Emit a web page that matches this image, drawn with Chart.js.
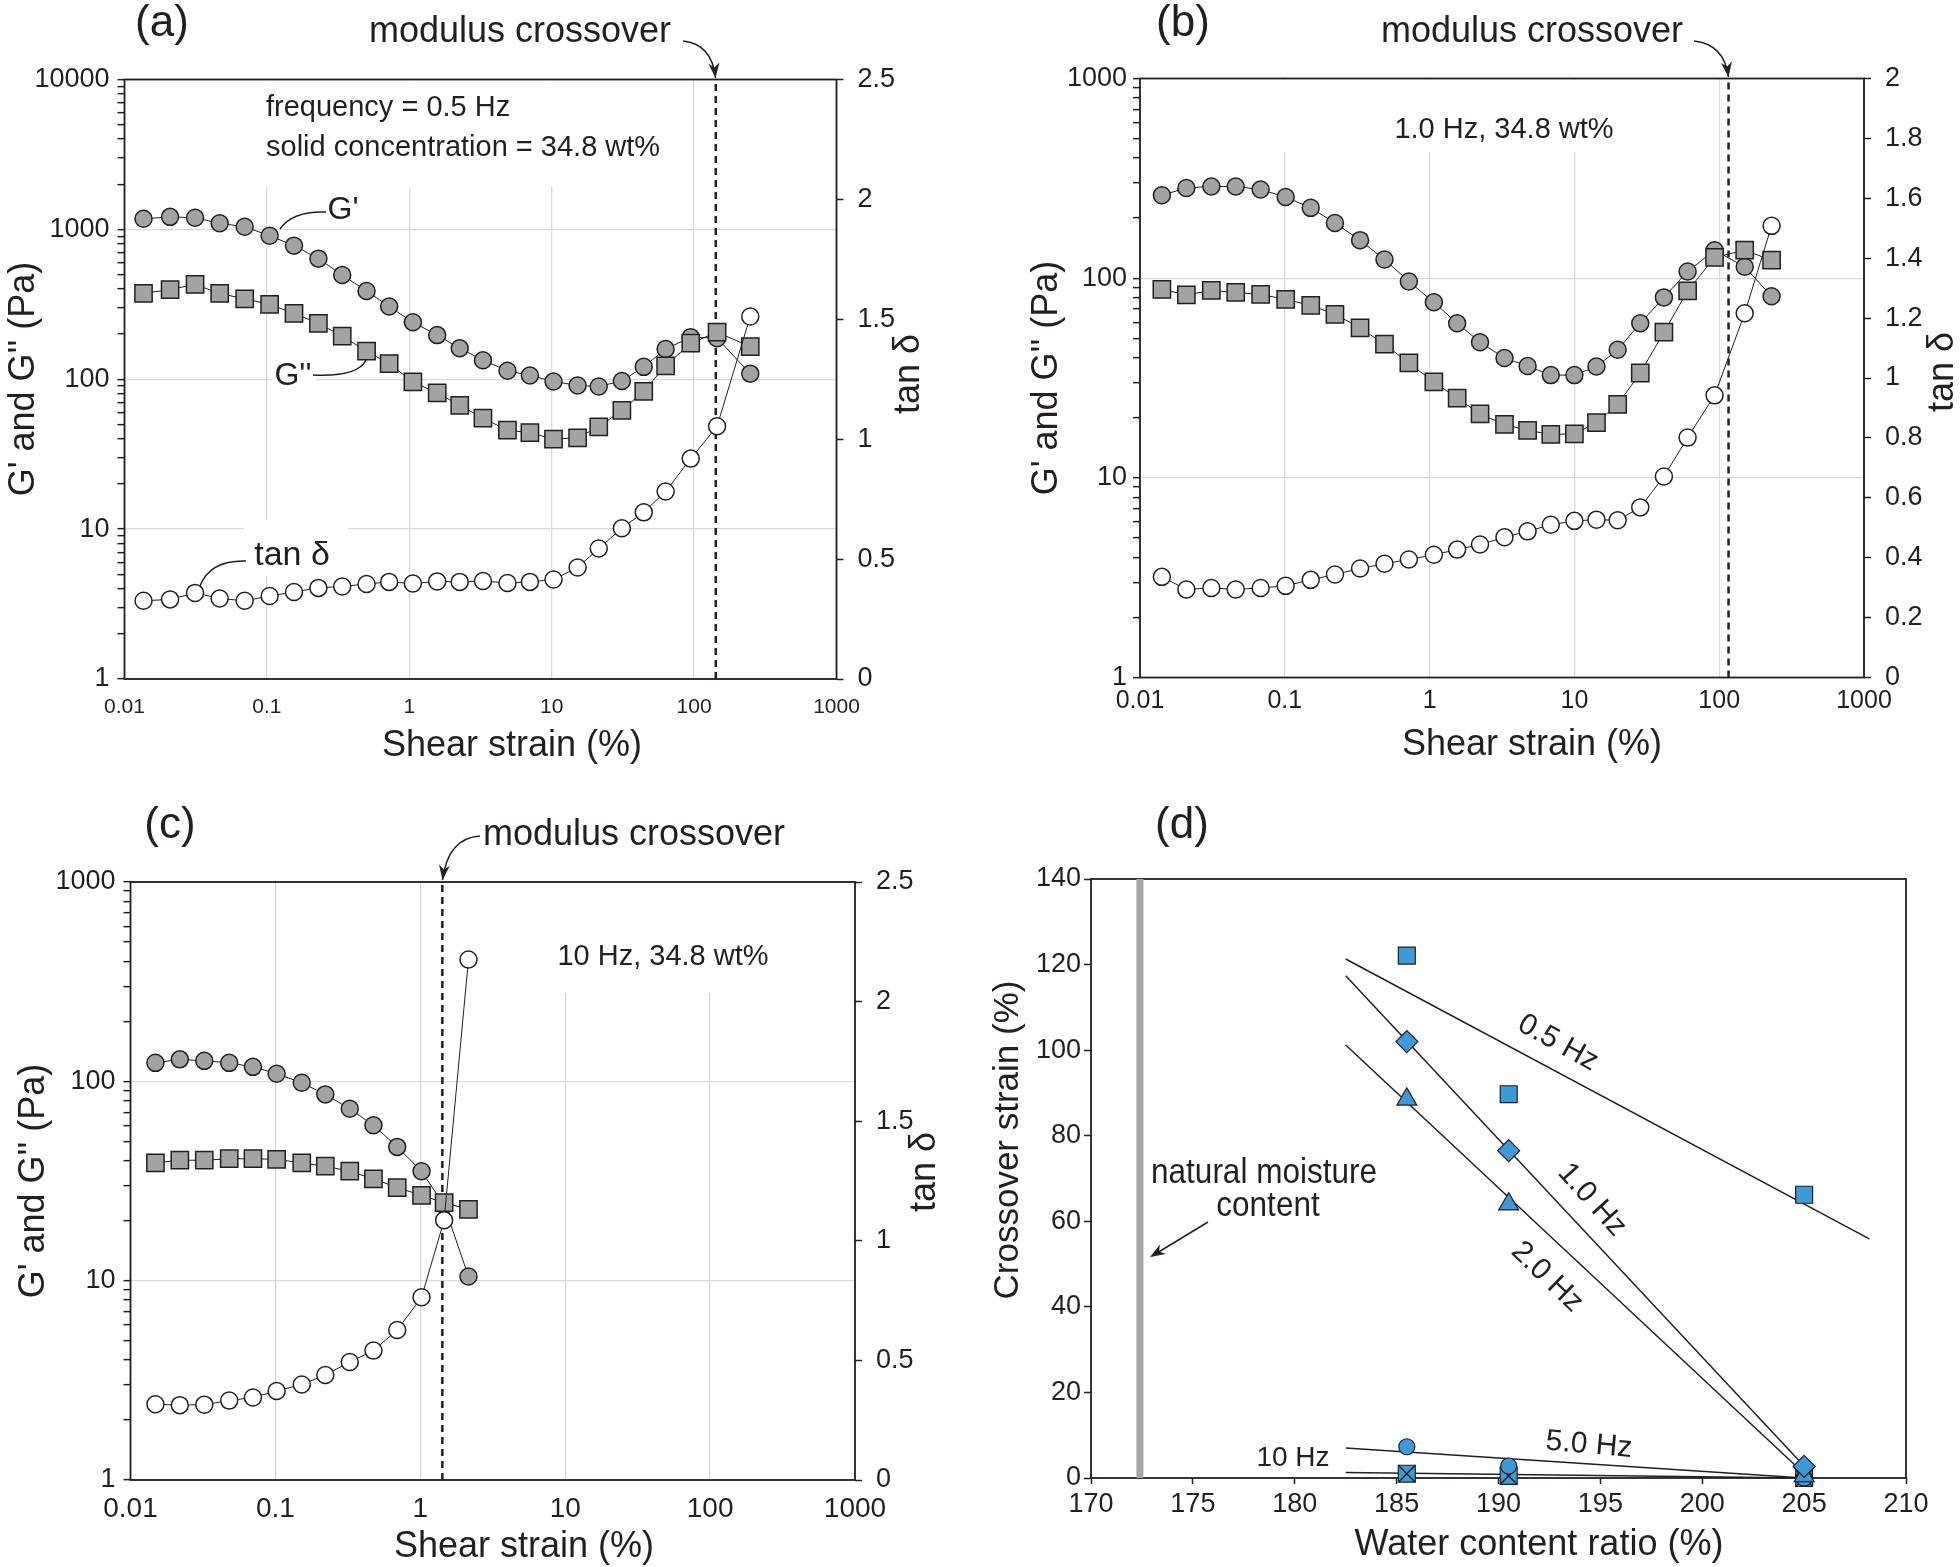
<!DOCTYPE html>
<html>
<head>
<meta charset="utf-8">
<script src="https://cdn.jsdelivr.net/npm/chart.js@4.4.1/dist/chart.umd.min.js"></script>
<style>
  html, body { margin: 0; padding: 0; background: #fff; }
  #fig { position: relative; width: 1960px; height: 1567px; overflow: hidden; background: #fff; }
  #fig canvas { position: absolute; }
</style>
</head>
<body>
<div id="fig">
  <canvas id="chart-a" width="980" height="783" style="left:0;top:0"></canvas>
  <canvas id="chart-b" width="980" height="783" style="left:980px;top:0"></canvas>
  <canvas id="chart-c" width="980" height="784" style="left:0;top:783px"></canvas>
  <canvas id="chart-d" width="980" height="784" style="left:980px;top:783px"></canvas>
</div>
<script>
// ---- (a) frequency 0.5 Hz ----
const strainA = [0.0136, 0.0209, 0.0313, 0.0466, 0.0698, 0.1045, 0.155, 0.230, 0.338, 0.501, 0.722, 1.06, 1.57, 2.26, 3.29, 4.89, 7.03, 10.3, 15.2, 21.4, 31.1, 44.3, 63.1, 94.7, 145, 248];
const gPrimeA = [1176, 1212, 1195, 1098, 1041, 907, 779, 638, 496, 388, 306, 240, 197, 161, 134, 114, 106, 96.7, 90.9, 89.5, 97.4, 121, 159, 191, 188, 109];
const gDoubleA = [374, 397, 429, 374, 344, 316, 275, 236, 194, 154, 127, 96, 81, 67, 55, 45.7, 44, 39.8, 40.7, 48.2, 62, 83, 123, 174, 206, 165];
const tanDeltaA = [0.326, 0.332, 0.359, 0.336, 0.326, 0.346, 0.363, 0.380, 0.386, 0.396, 0.405, 0.398, 0.407, 0.405, 0.409, 0.400, 0.405, 0.415, 0.465, 0.544, 0.629, 0.695, 0.782, 0.919, 1.054, 1.512];
const crossoverA = 142;

// ---- (b) 1.0 Hz ----
const strainB = [0.01416, 0.0209, 0.0311, 0.0458, 0.0681, 0.1014, 0.151, 0.222, 0.331, 0.488, 0.719, 1.07, 1.55, 2.23, 3.29, 4.75, 6.87, 10.0, 14.2, 19.9, 28.5, 41.5, 60.5, 92.9, 150, 230];
const gPrimeB = [260, 283, 288, 288, 278, 255, 225, 189, 155, 124, 96.3, 75.7, 59.5, 47.8, 39.8, 36.3, 32.7, 32.7, 36.1, 43.8, 59.5, 80.1, 108, 138, 114, 81.1];
const gDoubleB = [87.8, 82.5, 86.8, 84.9, 82.9, 78.3, 73.1, 65.9, 56.4, 46.7, 37.6, 30.2, 25.1, 20.9, 18.5, 17.3, 16.5, 16.6, 18.9, 23.3, 33.5, 53.6, 86.3, 127, 138, 123];
const tanDeltaB = [0.336, 0.294, 0.299, 0.294, 0.299, 0.306, 0.326, 0.344, 0.364, 0.380, 0.394, 0.410, 0.427, 0.444, 0.468, 0.488, 0.510, 0.523, 0.527, 0.525, 0.568, 0.671, 0.801, 0.942, 1.216, 1.508];
const crossoverB = 116;

// ---- (c) 10 Hz ----
const strainC = [0.01486, 0.0219, 0.0323, 0.048, 0.070, 0.102, 0.152, 0.221, 0.326, 0.475, 0.693, 1.02, 1.46, 2.15];
const gPrimeC = [123.8, 128.9, 126.7, 123.8, 118.2, 109.1, 98.3, 86.0, 72.8, 60.2, 46.9, 35.4, 23.9, 10.5];
const gDoubleC = [39.0, 40.2, 40.2, 40.9, 40.9, 40.6, 39.0, 37.5, 35.4, 32.4, 29.3, 26.8, 24.6, 22.8];
const tanDeltaC = [0.317, 0.313, 0.315, 0.332, 0.345, 0.372, 0.399, 0.439, 0.493, 0.541, 0.627, 0.764, 1.086, 2.176];
const crossoverC = 1.42;

// ---- (d) crossover strain vs water content ----
const waterRatio = [185.5, 190.5, 205];
const cross05Hz = [122.1, 89.7, 66.2];
const cross10Hz = [102.0, 76.5, 2.7];
const cross20Hz = [88.5, 64.0, 0.5];
const cross50Hz = [7.3, 2.8, 0];
const cross100Hz = [1.0, 0.5, 0];
// fitted lines, end points
const fitX05 = [182.5, 208.2], fitY05 = [121.3, 55.9];
const fitX10 = [182.5, 205.1], fitY10 = [117.4, 2.3];
const fitX20 = [182.5, 205.1], fitY20 = [101.2, 0.6];
const fitX50 = [182.5, 205.0], fitY50 = [7.0, 0];
const fitX100 = [182.5, 205.0], fitY100 = [1.3, 0];
const naturalMoisture = 172.4;

const strainTicks = [0.01, 0.1, 1, 10, 100, 1000];

const FONT = "'Liberation Sans', Arial, Helvetica, sans-serif";
const INK = '#231f20';
const GRID = '#dadada';
const GREY = '#a3a3a3';
const BLUE = '#3d9ad6';

function decade(v) {
    const l = Math.log10(v);
    return Math.abs(l - Math.round(l)) < 1e-6;
}

function logTicks(lo, hi) {
    const out = [];
    for (let p = Math.round(Math.log10(lo)); p < Math.round(Math.log10(hi)); p++) {
        for (let m = 1; m < 10; m++) out.push(m * Math.pow(10, p));
    }
    out.push(hi);
    return out;
}

function pts(xs, ys) {
    return xs.map((x, i) => ({ x: x, y: ys[i] }));
}

// ---- drawing helpers (page coordinates) ----
function label(ctx, str, x, y, size, rot, align, squeeze) {
    ctx.save();
    ctx.font = size + 'px ' + FONT;
    ctx.fillStyle = INK;
    ctx.textAlign = align || 'center';
    ctx.textBaseline = 'middle';
    ctx.translate(x, y);
    if (rot) ctx.rotate(rot * Math.PI / 180);
    if (squeeze) ctx.scale(squeeze, 1);
    ctx.fillText(str, 0, 0);
    ctx.restore();
}

function arrowHead(ctx, x, y, ang) {
    const L = 15, W = 5.5;
    ctx.save();
    ctx.translate(x, y);
    ctx.rotate(ang);
    ctx.beginPath();
    ctx.moveTo(0, 0);
    ctx.lineTo(-L, -W);
    ctx.lineTo(-L * 0.7, 0);
    ctx.lineTo(-L, W);
    ctx.closePath();
    ctx.fillStyle = INK;
    ctx.fill();
    ctx.restore();
}

function curve(ctx, x0, y0, cx, cy, x1, y1, head) {
    ctx.save();
    ctx.beginPath();
    ctx.moveTo(x0, y0);
    ctx.quadraticCurveTo(cx, cy, x1, y1);
    ctx.strokeStyle = INK;
    ctx.lineWidth = 1.5;
    ctx.stroke();
    ctx.restore();
    if (head) arrowHead(ctx, x1, y1, Math.atan2(y1 - cy, x1 - cx));
}

function panelArt(p) {
    return {
        id: 'panelArt',
        beforeDatasetsDraw(chart) {
            const ctx = chart.ctx, a = chart.chartArea;
            ctx.save();
            ctx.translate(-p.ox, -p.oy);
            ctx.fillStyle = '#fff';
            (p.blanks || []).forEach(b => ctx.fillRect(b[0], b[1], b[2] - b[0], b[3] - b[1]));
            ctx.restore();
            ctx.save();
            ctx.strokeStyle = INK;
            ctx.lineWidth = 1.8;
            ctx.strokeRect(a.left, a.top, a.right - a.left, a.bottom - a.top);
            ctx.restore();
        },
        afterDraw(chart) {
            const ctx = chart.ctx;
            ctx.save();
            ctx.translate(-p.ox, -p.oy);
            p.art(ctx);
            ctx.restore();
        }
    };
}

// strain sweep panels (a)-(c)
function sweepChart(id, p) {
    const tickFont = { family: FONT, size: 27 };
    return new Chart(document.getElementById(id), {
        type: 'line',
        data: {
            datasets: [
                {
                    label: 'tan δ', data: pts(p.strain, p.tan), yAxisID: 'yt', order: 0,
                    borderColor: INK, borderWidth: 1, pointStyle: 'circle', pointRadius: 8.5,
                    pointBackgroundColor: '#fff', pointBorderColor: INK, pointBorderWidth: 1.5, clip: false
                },
                {
                    label: "G''", data: pts(p.strain, p.gpp), yAxisID: 'y', order: 1,
                    borderColor: INK, borderWidth: 1, pointStyle: 'rect', pointRadius: 12.2,
                    pointBackgroundColor: GREY, pointBorderColor: INK, pointBorderWidth: 1.5, clip: false
                },
                {
                    label: "G'", data: pts(p.strain, p.gp), yAxisID: 'y', order: 2,
                    borderColor: INK, borderWidth: 1, pointStyle: 'circle', pointRadius: 8.5,
                    pointBackgroundColor: GREY, pointBorderColor: INK, pointBorderWidth: 1.5, clip: false
                },
                {
                    label: 'modulus crossover', data: [{ x: p.cross, y: 1 }, { x: p.cross, y: p.yMax }],
                    yAxisID: 'y', order: 3, borderColor: INK, borderWidth: 2.5, borderDash: [7, 5], pointRadius: 0
                }
            ]
        },
        options: {
            responsive: false,
            animation: false,
            events: [],
            layout: { padding: { top: p.top, left: 0, right: 0, bottom: 0 } },
            plugins: { legend: { display: false }, tooltip: { enabled: false } },
            scales: {
                x: {
                    type: 'logarithmic', min: 0.01, max: 1000,
                    afterBuildTicks: s => { s.ticks = strainTicks.map(v => ({ value: v })); },
                    afterFit: s => { s.height = p.bottomH; },
                    grid: { color: GRID, lineWidth: 1.3, drawTicks: false },
                    border: { display: false },
                    ticks: {
                        autoSkip: false, maxRotation: 0, padding: p.xPad, color: INK,
                        font: { family: FONT, size: p.xFont }, callback: v => String(v)
                    }
                },
                y: {
                    type: 'logarithmic', position: 'left', min: 1, max: p.yMax,
                    afterBuildTicks: s => { s.ticks = logTicks(1, p.yMax).map(v => ({ value: v })); },
                    afterFit: s => { s.width = p.leftW; },
                    grid: {
                        color: c => (c.tick && decade(c.tick.value)) ? GRID : 'rgba(0,0,0,0)',
                        lineWidth: 1.3, tickColor: INK, tickLength: 7, tickWidth: 1.5
                    },
                    border: { display: false },
                    ticks: {
                        autoSkip: false, padding: p.yPad, color: INK, font: tickFont,
                        callback: v => decade(v) ? String(v) : ''
                    }
                },
                yt: {
                    type: 'linear', position: 'right', min: 0, max: p.tanMax,
                    afterFit: s => { s.width = p.rightW; },
                    grid: { drawOnChartArea: false, tickColor: INK, tickLength: 7, tickWidth: 1.5 },
                    border: { display: false },
                    ticks: {
                        stepSize: p.tanStep, padding: 14, color: INK, font: tickFont,
                        callback: v => String(Math.round(v * 10) / 10)
                    }
                }
            }
        },
        plugins: [panelArt(p)]
    });
}

document.addEventListener('DOMContentLoaded', () => {
    sweepChart('chart-a', {
        strain: strainA, gp: gPrimeA, gpp: gDoubleA, tan: tanDeltaA, cross: crossoverA,
        yMax: 10000, tanMax: 2.5, tanStep: 0.5,
        ox: 0, oy: 0, top: 79.5, leftW: 124.5, rightW: 143.5, bottomH: 104,
        xFont: 21, xPad: 16, yPad: 8,
        blanks: [[250, 81, 682, 187], [244, 520, 348, 576], [272, 356, 316, 396]],
        art(ctx) {
            label(ctx, '(a)', 162, 24, 44);
            label(ctx, 'modulus crossover', 520, 32, 36);
            curve(ctx, 683, 41, 712, 44, 715.5, 78, true);
            label(ctx, 'frequency = 0.5 Hz', 266, 108, 29, 0, 'left');
            label(ctx, 'solid concentration = 34.8 wt%', 266, 148, 29, 0, 'left');
            label(ctx, "G'", 343, 210, 32);
            curve(ctx, 326, 212, 292, 211, 280, 229);
            label(ctx, "G''", 293, 376, 32);
            curve(ctx, 313, 375, 358, 377, 366, 360);
            label(ctx, 'tan δ', 292, 556, 34);
            curve(ctx, 246, 561, 210, 560, 200, 586);
            label(ctx, "G' and G'' (Pa)", 24, 379, 36, -90);
            label(ctx, 'tan δ', 909, 374, 36, -90);
            label(ctx, 'Shear strain (%)', 512, 746, 36);
        }
    });

    sweepChart('chart-b', {
        strain: strainB, gp: gPrimeB, gpp: gDoubleB, tan: tanDeltaB, cross: crossoverB,
        yMax: 1000, tanMax: 2, tanStep: 0.2,
        ox: 980, oy: 0, top: 78.5, leftW: 160, rightW: 96, bottomH: 105.5,
        xFont: 25, xPad: 9, yPad: 6,
        blanks: [[1270, 80, 1640, 152]],
        art(ctx) {
            label(ctx, '(b)', 1183, 24, 44);
            label(ctx, 'modulus crossover', 1532, 32, 36);
            curve(ctx, 1694, 41, 1724, 44, 1728.5, 77, true);
            label(ctx, '1.0 Hz, 34.8 wt%', 1504, 130, 29);
            label(ctx, "G' and G'' (Pa)", 1047, 378, 36, -90);
            label(ctx, 'tan δ', 1943, 372, 36, -90);
            label(ctx, 'Shear strain (%)', 1532, 745, 36);
        }
    });

    sweepChart('chart-c', {
        strain: strainC, gp: gPrimeC, gpp: gDoubleC, tan: tanDeltaC, cross: crossoverC,
        yMax: 1000, tanMax: 2.5, tanStep: 0.5,
        ox: 0, oy: 783, top: 99, leftW: 130.5, rightW: 125, bottomH: 87,
        xFont: 28, xPad: 12, yPad: 8,
        blanks: [[545, 883, 790, 993]],
        art(ctx) {
            label(ctx, '(c)', 170, 826, 44);
            label(ctx, 'modulus crossover', 634, 835, 36);
            curve(ctx, 480, 836, 448, 838, 442.5, 880, true);
            label(ctx, '10 Hz, 34.8 wt%', 663, 957, 29);
            label(ctx, "G' and G'' (Pa)", 34, 1181, 36, -90);
            label(ctx, 'tan δ', 925, 1172, 36, -90);
            label(ctx, 'Shear strain (%)', 524, 1547, 36);
        }
    });

    initCrossoverChart();
});

function marker(labelText, ys, style, radius, order) {
    return {
        label: labelText, data: pts(waterRatio, ys), order: order, showLine: false,
        pointStyle: style, pointRadius: radius, pointBackgroundColor: BLUE,
        pointBorderColor: INK, pointBorderWidth: 1.2, clip: false
    };
}

function fitLine(labelText, xs, ys) {
    return {
        label: labelText, data: pts(xs, ys), order: 8, borderColor: INK, borderWidth: 1.5,
        pointRadius: 0, clip: false
    };
}

function initCrossoverChart() {
    const p = {
        ox: 980, oy: 783,
        art(ctx) {
            label(ctx, '(d)', 1182, 826, 44);
            label(ctx, 'Crossover strain (%)', 1008, 1140, 35, -90);
            label(ctx, 'Water content ratio (%)', 1539, 1545, 36);
            label(ctx, 'natural moisture', 1264, 1173, 35, 0, 'center', 0.9);
            label(ctx, 'content', 1268, 1206, 35, 0, 'center', 0.9);
            ctx.save();
            ctx.beginPath();
            ctx.moveTo(1208, 1222);
            ctx.lineTo(1152, 1256);
            ctx.strokeStyle = INK;
            ctx.lineWidth = 1.5;
            ctx.stroke();
            ctx.restore();
            arrowHead(ctx, 1150, 1257, Math.atan2(35, -58));
            label(ctx, '0.5 Hz', 1558, 1043, 30, 29);
            label(ctx, '1.0 Hz', 1592, 1200, 30, 48);
            label(ctx, '2.0 Hz', 1547, 1277, 30, 44);
            label(ctx, '5.0 Hz', 1589, 1445, 30, 5);
            label(ctx, '10 Hz', 1293, 1458, 28);
        }
    };
    const tickFont = { family: FONT, size: 27 };
    new Chart(document.getElementById('chart-d'), {
        type: 'line',
        data: {
            datasets: [
                marker('0.5 Hz', cross05Hz, 'rect', 12, 0),
                marker('1.0 Hz', cross10Hz, 'rectRot', 11, 1),
                marker('2.0 Hz', cross20Hz, 'triangle', 11.5, 2),
                marker('5.0 Hz', cross50Hz, 'circle', 8, 3),
                {
                    label: '10 Hz cross', data: pts(waterRatio, cross100Hz), order: 4, showLine: false,
                    pointStyle: 'crossRot', pointRadius: 12, pointBorderColor: INK, pointBorderWidth: 1.5, clip: false
                },
                marker('10 Hz', cross100Hz, 'rect', 12, 5),
                fitLine('0.5 Hz fit', fitX05, fitY05),
                fitLine('1.0 Hz fit', fitX10, fitY10),
                fitLine('2.0 Hz fit', fitX20, fitY20),
                fitLine('5.0 Hz fit', fitX50, fitY50),
                fitLine('10 Hz fit', fitX100, fitY100),
                {
                    label: 'natural moisture content',
                    data: [{ x: naturalMoisture, y: 0 }, { x: naturalMoisture, y: 140 }],
                    order: 9, borderColor: '#a6a6a6', borderWidth: 7, pointRadius: 0
                }
            ]
        },
        options: {
            responsive: false,
            animation: false,
            events: [],
            layout: { padding: { top: 96, left: 0, right: 54, bottom: 0 } },
            plugins: { legend: { display: false }, tooltip: { enabled: false } },
            scales: {
                x: {
                    type: 'linear', min: 170, max: 210,
                    afterFit: s => { s.height = 89; },
                    grid: { drawOnChartArea: false, tickColor: INK, tickLength: 6, tickWidth: 1.5 },
                    border: { display: false },
                    ticks: { stepSize: 5, padding: 4, color: INK, font: tickFont, maxRotation: 0, autoSkip: false }
                },
                y: {
                    type: 'linear', min: 0, max: 140,
                    afterFit: s => { s.width = 111; },
                    grid: { drawOnChartArea: false, tickColor: INK, tickLength: 7, tickWidth: 1.5 },
                    border: { display: false },
                    ticks: { stepSize: 20, padding: 3, color: INK, font: tickFont }
                }
            }
        },
        plugins: [panelArt(p)]
    });
}
</script>
</body>
</html>
